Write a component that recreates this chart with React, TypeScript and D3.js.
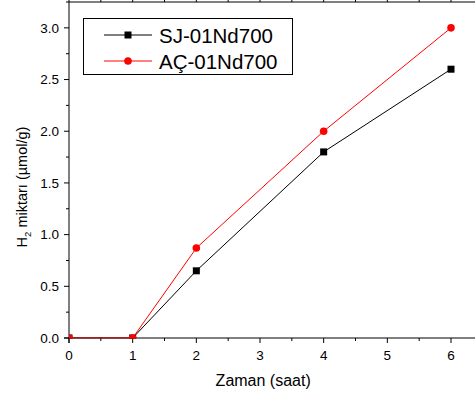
import React from "react";
import * as d3 from "d3";

const hours = [0, 1, 2, 4, 6];
const sjValues = [0, 0, 0.65, 1.8, 2.6];
const acValues = [0, 0, 0.87, 2.0, 3.0];
const seriesNames = ["SJ-01Nd700", "AÇ-01Nd700"];
const xTicks = [0, 1, 2, 3, 4, 5, 6];
const yTicks = [0, 0.5, 1.0, 1.5, 2.0, 2.5, 3.0];

const W = 475;
const H = 398;
const left = 69;
const top = 2;
const bottom = 338;
const FONT = "Arial, 'Liberation Sans', Helvetica, sans-serif";

export default function App() {
  const x = d3.scaleLinear().domain([0, 6]).range([left, 451]);
  const y = d3.scaleLinear().domain([0, 3.25]).range([bottom, top]);
  const line = d3
    .line<number>()
    .x((_, i) => x(hours[i]))
    .y((d) => y(d));

  const xMinor = d3.range(0, 6.51, 0.5);
  const yMinor = d3.range(0, 3.26, 0.25);

  return (
    <svg
      width={W}
      height={H}
      style={{ position: "absolute", left: 0, top: 0, background: "#fff" }}
      fontFamily={FONT}
    >
      <defs>
        <clipPath id="plotClip">
          <rect x={left} y={top} width={W} height={bottom - top + 0.5} />
        </clipPath>
      </defs>
      <rect width={W} height={H} fill="#fff" />
      {/* frame */}
      <line x1={left} x2={W + 5} y1={top} y2={top} stroke="#000" strokeWidth={1} />
      <line x1={left} x2={left} y1={top} y2={bottom + 5} stroke="#000" strokeWidth={1} />
      <line x1={left - 5} x2={W + 5} y1={bottom} y2={bottom} stroke="#000" strokeWidth={1} />
      {/* top ticks */}
      {xMinor.map((t) => (
        <line key={"tt" + t} x1={x(t)} x2={x(t)} y1={top} y2={0} stroke="#000" strokeWidth={1} />
      ))}
      {/* x ticks */}
      {xMinor.map((t) => (
        <line
          key={"xt" + t}
          x1={x(t)}
          x2={x(t)}
          y1={bottom}
          y2={bottom + (Number.isInteger(t) ? 5 : 3)}
          stroke="#000"
          strokeWidth={1}
        />
      ))}
      {xTicks.map((t) => (
        <text key={"xl" + t} x={x(t)} y={360} fontSize={13.5} textAnchor="middle" fill="#000">
          {t}
        </text>
      ))}
      {/* y ticks */}
      {yMinor.map((t) => {
        const major = Math.abs(t * 2 - Math.round(t * 2)) < 1e-6;
        return (
          <line
            key={"yt" + t}
            x1={left}
            x2={left - (major ? 5 : 3)}
            y1={y(t)}
            y2={y(t)}
            stroke="#000"
            strokeWidth={1}
          />
        );
      })}
      {yTicks.map((t) => (
        <text
          key={"yl" + t}
          x={59}
          y={y(t) + 4.8}
          fontSize={13.5}
          textAnchor="end"
          fill="#000"
        >
          {t.toFixed(1)}
        </text>
      ))}
      {/* axis titles */}
      <text x={x(3.05)} y={386} fontSize={16} textAnchor="middle" fill="#000">
        Zaman (saat)
      </text>
      <text
        transform="translate(27,187) rotate(-90)"
        fontSize={14.5}
        textAnchor="middle"
        fill="#000"
      >
        H<tspan fontSize={9.5} dy={4}>2</tspan>
        <tspan dy={-4}> miktarı (µmol/g)</tspan>
      </text>
      {/* series */}
      <g clipPath="url(#plotClip)">
        <path d={line(sjValues) || ""} fill="none" stroke="#000" strokeWidth={1} />
        {sjValues.map((v, i) => (
          <rect key={"sj" + i} x={x(hours[i]) - 3.5} y={y(v) - 3.5} width={7} height={7} fill="#000" />
        ))}
        <path d={line(acValues) || ""} fill="none" stroke="#ff0000" strokeWidth={1} />
        {acValues.map((v, i) => (
          <circle key={"ac" + i} cx={x(hours[i])} cy={y(v)} r={3.8} fill="#ff0000" />
        ))}
      </g>
      {/* legend */}
      <rect x={83.5} y={18.5} width={209} height={56} fill="#fff" stroke="#000" strokeWidth={1} />
      <line x1={104} x2={152} y1={35} y2={35} stroke="#000" strokeWidth={1} />
      <rect x={124.5} y={31.5} width={7} height={7} fill="#000" />
      <text x={159} y={43} fontSize={20.5} fill="#000">
        {seriesNames[0]}
      </text>
      <line x1={104} x2={152} y1={61} y2={61} stroke="#ff0000" strokeWidth={1} />
      <circle cx={128} cy={61} r={3.8} fill="#ff0000" />
      <text x={159} y={68.5} fontSize={20.5} fill="#000">
        {seriesNames[1]}
      </text>
    </svg>
  );
}
